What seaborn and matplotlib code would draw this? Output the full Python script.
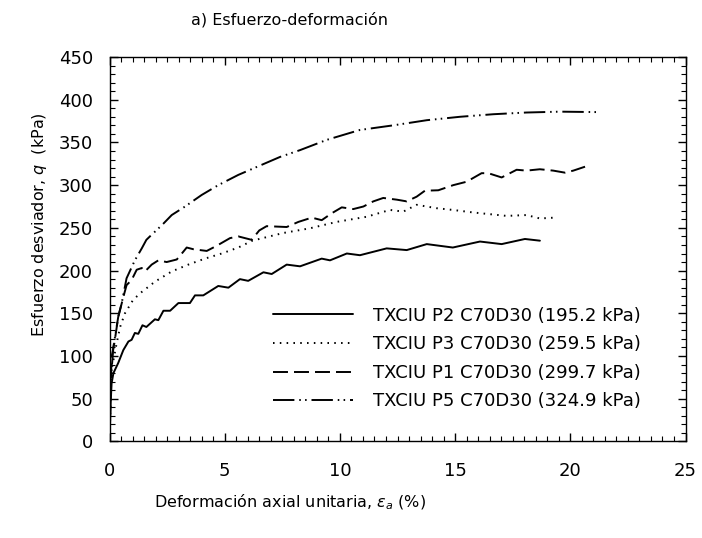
import numpy as np
import pandas as pd
import matplotlib
matplotlib.use('Agg')
import matplotlib.pyplot as plt
from matplotlib.ticker import MultipleLocator
import seaborn as sns

# Curvas esfuerzo-deformación (deformación en %, q en kPa)
def_p2 = [0, 0.05, 0.09, 0.17, 0.38, 0.6, 0.82, 0.96, 1.1, 1.25, 1.43, 1.6, 1.97, 2.12, 2.34, 2.63,
          2.99, 3.49, 3.71, 4.07, 4.72, 5.16, 5.66, 6.02, 6.68, 7.04, 7.69, 8.27, 9.21, 9.57, 10.3,
          10.87, 12.03, 12.9, 13.77, 14.9, 16.08, 17.02, 18.03, 18.68]
q_p2 = [0, 45, 68, 80, 92, 107, 117, 119, 127, 126, 136, 134, 143, 142, 153, 153,
        162, 162, 171, 171, 182, 180, 190, 188, 198, 196, 207, 205, 214, 212, 220,
        218, 226, 224, 231, 227, 234, 231, 237, 235]

def_p3 = [0, 0.05, 0.09, 0.31, 0.46, 0.67, 1.03, 1.4, 1.97, 2.7, 3.42, 4.14, 4.87, 5.59, 6.2,
          7.54, 8.7, 9.86, 11.16, 12.17, 12.75, 13.33, 14.2, 14.9, 15.79, 17.24, 18.1, 18.68, 19.34]
q_p3 = [0, 50, 84, 115, 134, 150, 166, 175, 187, 199, 207, 214, 220, 227, 235,
        244, 249.5, 257, 263, 271, 269, 277, 273, 271, 268, 264, 265, 261, 262]

def_p1 = [0, 0.05, 0.09, 0.21, 0.38, 0.6, 0.74, 0.96, 1.18, 1.4, 1.54, 1.83, 2.12, 2.48, 2.92,
          3.2, 3.35, 3.64, 4.22, 4.65, 5.23, 5.59, 6.17, 6.5, 6.82, 7.69, 8.2, 8.78, 9.21, 9.64,
          10.08, 10.58, 11.02, 11.45, 11.88, 12.47, 12.9, 13.33, 13.69, 14.27, 14.92, 15.5,
          16.15, 16.44, 17.02, 17.67, 18.1, 18.68, 19.26, 19.77, 20.13, 20.64]
q_p1 = [0, 60, 99, 115, 146, 169, 183, 189, 201, 203, 199, 207, 212, 210, 213,
        222, 227, 225, 223, 229, 238, 240, 236, 247, 252, 251, 257, 262, 259, 267,
        274, 272, 275, 281, 285, 283, 281, 286.5, 293.5, 294, 300, 304,
        314, 314, 309, 318, 317, 318.6, 317, 314.6, 317, 321.6]

def_p5 = [0, 0.02, 0.17, 0.38, 0.53, 0.74, 1.1, 1.4, 1.6, 1.83, 2.05, 2.34, 2.7, 3.28, 4.0,
          4.72, 5.59, 6.28, 7.4, 8.27, 9.43, 10.87, 12.32, 13.77, 15.21, 16.66, 18.1, 19.55, 21.14]
q_p5 = [0, 60, 111, 146, 162, 191, 212, 226, 236, 242, 247.5, 255, 265, 275, 288.5,
        300, 312, 320, 333, 341, 353, 364.6, 370, 376, 380, 383, 385, 386, 385.5]

etiquetas = ['TXCIU P2 C70D30 (195.2 kPa)', 'TXCIU P3 C70D30 (259.5 kPa)',
             'TXCIU P1 C70D30 (299.7 kPa)', 'TXCIU P5 C70D30 (324.9 kPa)']

sns.set_theme(style='ticks')
plt.rcParams['font.family'] = ['DejaVu Sans']
plt.rcParams['mathtext.fontset'] = 'dejavusans'
plt.rcParams['text.color'] = 'black'
plt.rcParams['axes.labelcolor'] = 'black'
plt.rcParams['xtick.color'] = 'black'
plt.rcParams['ytick.color'] = 'black'

fig = plt.figure(figsize=(7.02, 5.38), dpi=100)
ax = fig.add_axes([0.156, 0.1794, 0.8205, 0.7147])

lw = 1.4
estilos = ['-', (0, (0.8, 2.7)), (0, (7.7, 3.1)), (0, (11, 2.5, 0.8, 2.2, 0.8, 2.5))]
series = [(def_p2, q_p2), (def_p3, q_p3), (def_p1, q_p1), (def_p5, q_p5)]

for (x, y), etq, ls in zip(series, etiquetas, estilos):
    df = pd.DataFrame({'def': x, 'q': y})
    sns.lineplot(data=df, x='def', y='q', ax=ax, color='black', lw=lw,
                 linestyle=ls, label=etq, estimator=None, sort=False)

ax.set_xlim(0, 25)
ax.set_ylim(0, 450)
ax.xaxis.set_major_locator(MultipleLocator(5))
ax.xaxis.set_minor_locator(MultipleLocator(0.5))
ax.yaxis.set_major_locator(MultipleLocator(50))
ax.yaxis.set_minor_locator(MultipleLocator(10))
ax.tick_params(which='both', direction='in', top=True, right=True, color='black')
ax.tick_params(which='major', length=6, width=1)
ax.tick_params(which='minor', length=3.5, width=0.8)
ax.tick_params(axis='x', which='major', labelsize=13, pad=15, labelcolor='black')
ax.tick_params(axis='y', which='major', labelsize=13, pad=12, labelcolor='black')
for s in ax.spines.values():
    s.set_color('black')
    s.set_linewidth(1.0)

ax.set_xlabel(r'Deformación axial unitaria, $\varepsilon_a$ (%)', fontsize=11.5, color='black')
ax.xaxis.label.set_va('center')
ax.xaxis.set_label_coords(0.313, -0.157)
ax.set_ylabel(r'Esfuerzo desviador, $q$  (kPa)', fontsize=11.5, color='black')
ax.yaxis.label.set_va('center')
ax.yaxis.set_label_coords(-0.1207, 0.563)
ax.set_title('a) Esfuerzo-deformación', fontsize=11.5, x=0.313, color='black',
             y=(441.5 - 20) / 384.5, va='center', pad=0)

leg = ax.legend(loc='upper left', bbox_to_anchor=(0.284, 0.351), frameon=False,
                fontsize=13, handlelength=4.4, handletextpad=1.15, labelspacing=0.59,
                borderpad=0, borderaxespad=0)
for t in leg.get_texts():
    t.set_color('black')

fig.savefig('out.png', dpi=100, facecolor='white')
